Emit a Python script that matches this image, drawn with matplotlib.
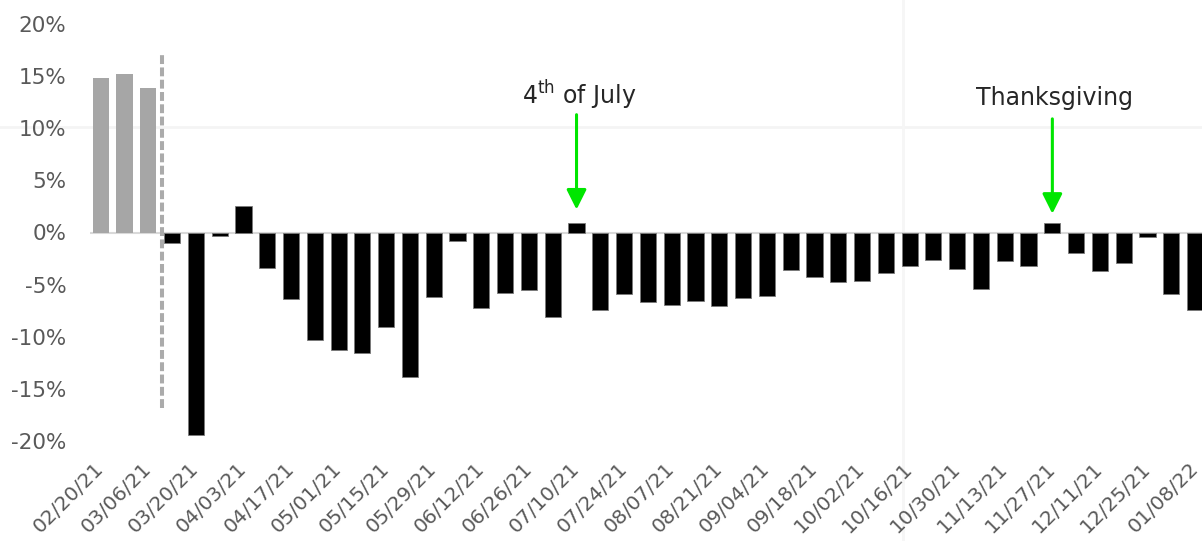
import numpy as np
import matplotlib.pyplot as plt
from matplotlib.lines import Line2D

# weekly % change, pre-period (grey) and tracked weeks (black)
pre_values = [14.8, 15.2, 13.85]
post_values = [-1.0, -19.4, -0.3, 2.5, -3.4, -6.4, -10.3, -11.3, -11.6, -9.1,
               -13.85, -6.2, -0.8, -7.2, -5.8, -5.5, -8.1, 0.95, -7.45, -5.9,
               -6.7, -6.95, -6.55, -7.05, -6.3, -6.05, -3.6, -4.25, -4.75, -4.67,
               -3.87, -3.23, -2.6, -3.5, -5.4, -2.7, -3.23, 0.95, -1.95, -3.74,
               -2.97, -0.4, -5.9, -7.45]

# every other week is labelled
tick_labels = ['02/20/21', '03/06/21', '03/20/21', '04/03/21', '04/17/21', '05/01/21',
               '05/15/21', '05/29/21', '06/12/21', '06/26/21', '07/10/21', '07/24/21',
               '08/07/21', '08/21/21', '09/04/21', '09/18/21', '10/02/21', '10/16/21',
               '10/30/21', '11/13/21', '11/27/21', '12/11/21', '12/25/21', '01/08/22']

y_ticks = [-20, -15, -10, -5, 0, 5, 10, 15, 20]
y_tick_labels = ['-20%', '-15%', '-10%', '-5%', '0%', '5%', '10%', '15%', '20%']

# holiday callouts: (week index, label, text height, arrow top, arrow tip)
callouts = [(20, '4$^{\\mathrm{th}}$ of July', 13.2, 11.3, 2.2),
            (40, 'Thanksgiving', 12.9, 10.9, 1.8)]

plt.rcParams['font.family'] = ['DejaVu Sans']
label_color = '#595959'
green = '#00e600'

fig = plt.figure(figsize=(12.02, 5.41), dpi=100)

# faint background watermark cross
fig.add_artist(Line2D([0, 1], [1 - 127 / 541, 1 - 127 / 541], color='#f4f4f4', lw=2, zorder=-5))
fig.add_artist(Line2D([903 / 1202, 903 / 1202], [0, 1], color='#f6f6f6', lw=2, zorder=-5))

ax = fig.add_axes([90 / 1202, 100 / 541, 1 - 90 / 1202, 417 / 541])
ax.patch.set_alpha(0)

n_pre = len(pre_values)
x_pre = np.arange(n_pre)
x_post = np.arange(n_pre, n_pre + len(post_values))

ax.bar(x_pre, pre_values, width=0.68, color='#a6a6a6', zorder=2)
ax.bar(x_post, post_values, width=0.68, color='black', edgecolor='#7a7a7a',
       linewidth=0.6, zorder=2)

ax.axhline(0, color='#d9d9d9', lw=1.5, zorder=1)

# divider between pre-period and tracked weeks
ax.plot([2.57, 2.57], [-16.8, 17.1], color='#ababab', lw=2.9,
        linestyle=(0, (2.2, 0.85)), zorder=3)

for idx, text, ty, top, tip in callouts:
    ax.annotate('', xy=(idx, tip), xytext=(idx, top),
                arrowprops=dict(arrowstyle='-|>,head_length=0.6,head_width=0.3',
                                color=green, lw=2.2, shrinkA=0, shrinkB=0,
                                mutation_scale=20))
    ax.text(idx + 0.1, ty, text, ha='center', va='center', fontsize=17,
            color='#262626')

ax.set_xlim(-0.45, 46.29)
ax.set_ylim(-20, 20)
ax.set_yticks(y_ticks)
ax.set_yticklabels(y_tick_labels)
ax.set_xticks(np.arange(0, n_pre + len(post_values), 2))
ax.set_xticklabels(tick_labels, rotation=45, ha='right', va='center',
                   rotation_mode='anchor')

ax.tick_params(axis='y', length=0, pad=17, labelsize=15.5, labelcolor=label_color)
ax.tick_params(axis='x', length=0, pad=18, labelsize=14.5, labelcolor=label_color)

for spine in ax.spines.values():
    spine.set_visible(False)

fig.savefig('out.png', dpi=100)
